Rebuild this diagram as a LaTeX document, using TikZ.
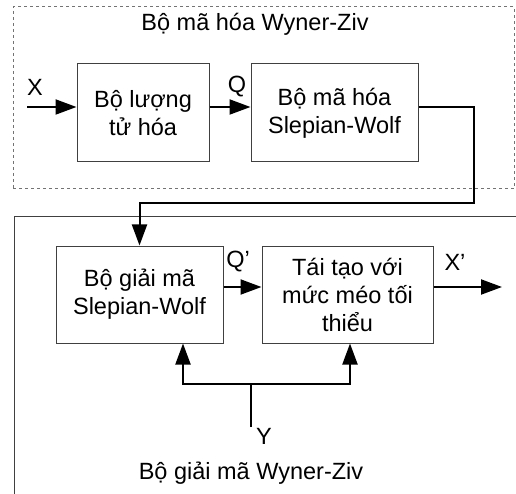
\documentclass[tikz,border=0pt]{standalone}
\usepackage{fontspec}
\setmainfont{Liberation Sans}
\usetikzlibrary{arrows.meta}
\begin{document}
\begin{tikzpicture}[x=1pt,y=1pt,
  blk/.style={draw=black!75,line width=1pt,minimum height=98pt,align=center,inner sep=0pt,font=\fontsize{23.5}{28}\selectfont},
  lbl/.style={font=\fontsize{23.5}{28}\selectfont,inner sep=0pt},
  conn/.style={line width=2pt,-{Triangle[length=21pt,width=15pt]}},
  wire/.style={line width=2pt}]
\clip (0,0) rectangle (516,-494);
\useasboundingbox (0,0) rectangle (516,-494);
% frames
\node[draw=black!55,dashed,line width=1pt,minimum width=501pt,minimum height=182pt,inner sep=0pt] (enc) at (263.5,-98) {};
\coordinate (dtr) at (530,-217);
\coordinate (dtl) at (14,-217);
\coordinate (dbl) at (14,-510);
\draw[draw=black!75,line width=1pt] (dtr) -- (dtl) -- (dbl);
\node[lbl] (enct) at (255,-24) {Bộ mã hóa Wyner-Ziv};
\node[lbl] (dect) at (251,-473) {Bộ giải mã Wyner-Ziv};
% blocks
\node[blk,minimum width=132pt] (b1) at (143,-113) {Bộ lượng\\tử hóa};
\node[blk,minimum width=167pt] (b2) at (334.5,-113) {Bộ mã hóa\\Slepian-Wolf};
\node[blk,minimum width=167pt,minimum height=97pt] (b3) at (139.5,-294.5) {Bộ giải mã\\Slepian-Wolf};
\node[blk,minimum width=171pt,minimum height=97pt] (b4) at (347.5,-294.5) {Tái tạo với\\mức méo tối\\thiểu};
% labels
\node[lbl] (lx) at (35,-87) {X};
\node[lbl] (lq) at (237,-87) {Q};
\node[lbl] (lq2) at (238,-262) {Q’};
\node[lbl] (lx2) at (455,-262) {X’};
\node[lbl] (ly) at (264,-436) {Y};
% connectors
\coordinate (xin) at (27,-107);
\draw[conn] (xin) -- ([yshift=6pt]b1.west);
\draw[conn] ([yshift=6pt]b1.east) -- ([yshift=6pt]b2.west);
\coordinate (c1) at (474,-203);
\draw[conn] ([yshift=6pt]b2.east) -| (c1) -| (b3.north);
\draw[conn] ([yshift=7.5pt]b3.east) -- ([yshift=7.5pt]b4.west);
\coordinate (xout) at (502,-287);
\draw[conn] ([yshift=7.5pt]b4.east) -- (xout);
\coordinate (yin) at (251,-427);
\coordinate (yj) at (251,-384);
\draw[wire] (yin) -- (yj);
\draw[conn] (yj) -| ([xshift=43.5pt]b3.south);
\draw[conn] (yj) -| ([xshift=2.5pt]b4.south);
\end{tikzpicture}
\end{document}
